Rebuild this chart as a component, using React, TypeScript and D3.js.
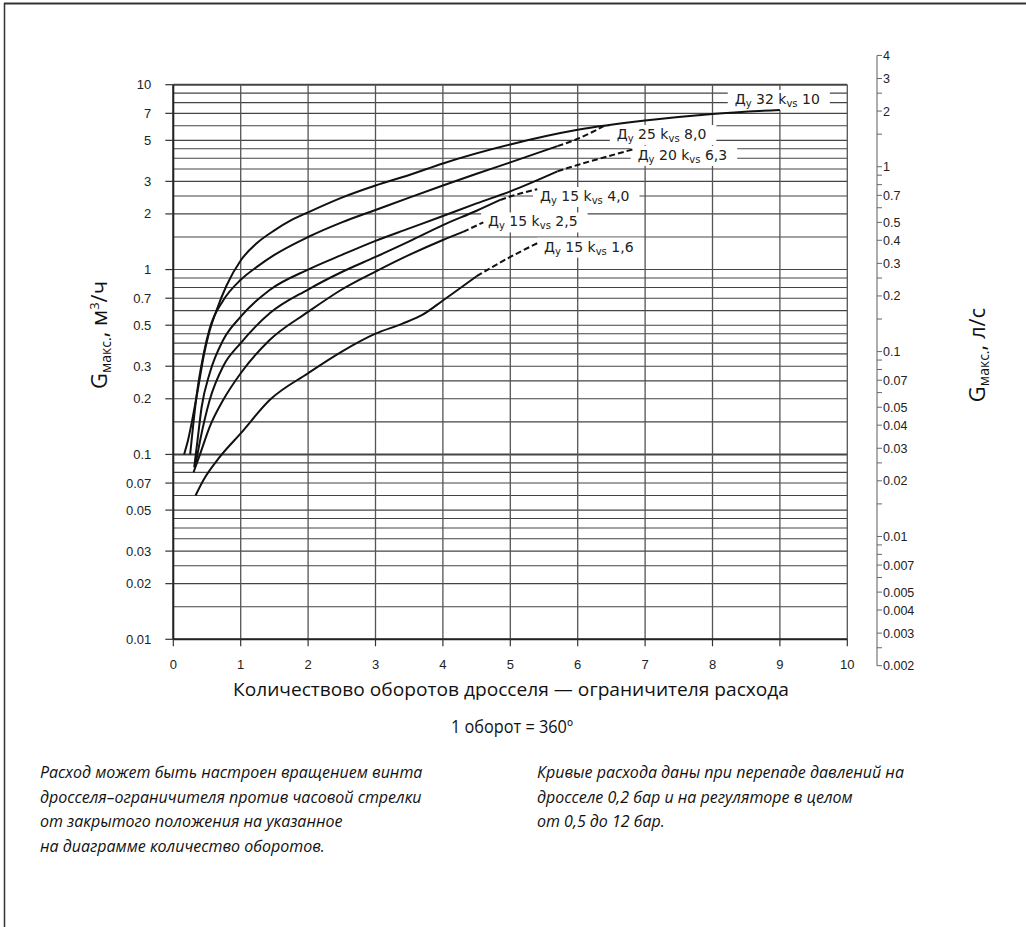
import React, { useEffect, useRef } from 'react';
import * as d3 from 'd3';

// x: turns of the throttle, y: max flow m3/h (log), right axis in l/s
const xTicks = [0, 1, 2, 3, 4, 5, 6, 7, 8, 9, 10];
const yTicks = [10, 7, 5, 3, 2, 1, 0.7, 0.5, 0.3, 0.2, 0.1, 0.07, 0.05, 0.03, 0.02, 0.01];
const gridSteps = [1, 1.5, 2, 2.5, 3, 3.5, 4, 4.5, 5, 6, 7, 8, 9];
const decades = [0.01, 0.1, 1];
const rightTicks = [4, 3, 2, 1, 0.7, 0.5, 0.4, 0.3, 0.2, 0.1, 0.07, 0.05, 0.04, 0.03, 0.02, 0.01, 0.007, 0.005, 0.004, 0.003, 0.002];
const rightMinorSteps = [1, 1.5, 2, 2.5, 3, 4, 5, 6, 7, 8, 9];
const rightDecades = [0.001, 0.01, 0.1, 1];
const M3H_PER_LS = 3.6;

// curves, [turns, m3/h]
const dn32kvs10 = [[0.16, 0.1], [0.22, 0.12], [0.3, 0.167], [0.37, 0.23], [0.45, 0.34], [0.52, 0.44], [0.64, 0.6], [0.79, 0.82], [1, 1.12], [1.25, 1.4], [1.5, 1.63], [1.75, 1.85], [2, 2.04], [2.5, 2.45], [3, 2.85], [3.5, 3.25], [4, 3.75], [5, 4.75], [6, 5.7], [7, 6.4], [8, 6.95], [9, 7.3]];
const dn25kvs8 = [[0.25, 0.1], [0.3, 0.15], [0.35, 0.214], [0.45, 0.35], [0.54, 0.48], [0.74, 0.68], [1, 0.88], [1.25, 1.04], [1.5, 1.2], [2, 1.5], [2.5, 1.8], [3, 2.1], [3.5, 2.45], [4, 2.85], [4.5, 3.3], [5, 3.8], [5.7, 4.65]];
const dn25kvs8Dash = [[5.7, 4.65], [6, 5.1], [6.4, 6.0]];
const dn20kvs63 = [[0.31, 0.085], [0.36, 0.12], [0.42, 0.18], [0.54, 0.275], [0.74, 0.416], [1, 0.556], [1.43, 0.776], [2, 1.0], [2.5, 1.2], [3, 1.43], [3.5, 1.67], [4, 1.95], [4.5, 2.28], [5, 2.65], [5.7, 3.4]];
const dn20kvs63Dash = [[5.7, 3.4], [6, 3.68], [6.4, 4.05], [6.85, 4.5]];
const dn15kvs40 = [[0.33, 0.088], [0.4, 0.12], [0.54, 0.197], [0.74, 0.3], [1, 0.4], [1.43, 0.58], [2, 0.78], [2.5, 0.97], [3, 1.17], [3.5, 1.42], [4, 1.74], [4.5, 2.08], [4.85, 2.38]];
const dn15kvs40Dash = [[4.85, 2.38], [5.1, 2.55], [5.4, 2.72]];
const dn15kvs25 = [[0.3, 0.08], [0.4, 0.101], [0.54, 0.141], [0.74, 0.197], [1, 0.275], [1.43, 0.416], [2, 0.59], [2.5, 0.78], [3, 0.975], [3.5, 1.2], [4, 1.445], [4.3, 1.6]];
const dn15kvs25Dash = [[4.3, 1.6], [4.6, 1.8]];
const dn15kvs16 = [[0.33, 0.06], [0.45, 0.073], [0.69, 0.097], [1, 0.13], [1.43, 0.197], [2, 0.275], [2.5, 0.36], [3, 0.45], [3.4, 0.51], [3.7, 0.57], [4, 0.68], [4.5, 0.92]];
const dn15kvs16Dash = [[4.5, 0.92], [5, 1.17], [5.42, 1.4]];

const solidCurves = [dn32kvs10, dn25kvs8, dn20kvs63, dn15kvs40, dn15kvs25, dn15kvs16];
const dashedCurves = [dn25kvs8Dash, dn20kvs63Dash, dn15kvs40Dash, dn15kvs25Dash, dn15kvs16Dash];

// curve captions: nominal diameter, kvs, anchor in data units
const labelDn = ['32', '25', '20', '15', '15', '15'];
const labelKvs = ['10', '8,0', '6,3', '4,0', '2,5', '1,6'];
const labelAt = [[8.33, 8.37], [6.58, 5.41], [6.89, 4.17], [5.44, 2.5], [4.67, 1.82], [5.5, 1.33]];

const xTitle = 'Количествово оборотов дросселя — ограничителя расхода';
const xSubTitle = '1 оборот = 360º';
const noteLeft = [
  'Расход может быть настроен вращением винта',
  'дросселя–ограничителя против часовой стрелки',
  'от закрытого  положения на указанное',
  'на диаграмме количество оборотов.',
];
const noteRight = [
  'Кривые расхода даны при перепаде давлений на',
  'дросселе 0,2 бар и на регуляторе в целом',
  'от 0,5 до 12 бар.',
];

const W = 1026;
const H = 927;

const App = () => {
  const svgRef = useRef<SVGSVGElement>(null);

  useEffect(() => {
    const svg = d3.select(svgRef.current);
    svg.selectAll('*').remove();

    const left = 173.3, right = 847.3, top = 84.7, bottom = 639.3;
    const x = d3.scaleLinear().domain([0, 10]).range([left, right]);
    const y = d3.scaleLog().domain([0.01, 10]).range([bottom, top]);
    const yR = d3.scaleLog().domain([0.01 / M3H_PER_LS, 10 / M3H_PER_LS]).range([bottom, top]);

    // page frame
    svg.append('line').attr('x1', 4).attr('x2', W).attr('y1', 3.5).attr('y2', 3.5)
      .attr('stroke', '#333').attr('stroke-width', 2);
    svg.append('line').attr('x1', 4.5).attr('x2', 4.5).attr('y1', 3).attr('y2', H)
      .attr('stroke', '#333').attr('stroke-width', 1.5);

    const gridG = svg.append('g');
    const bgG = svg.append('g');
    const curveG = svg.append('g');
    const axisG = svg.append('g');
    const labelG = svg.append('g');

    // grid
    const gridVals = decades.flatMap(d => gridSteps.map(s => +(d * s).toPrecision(3))).concat([10]);
    gridG.selectAll('line.h').data(gridVals).join('line')
      .attr('x1', left).attr('x2', right)
      .attr('y1', d => y(d)).attr('y2', d => y(d))
      .attr('stroke', '#444')
      .attr('stroke-width', d => (d === 0.1 || d === 10 ? 2 : 1.1));
    gridG.selectAll('line.v').data(xTicks).join('line')
      .attr('x1', d => x(d)).attr('x2', d => x(d))
      .attr('y1', top).attr('y2', bottom)
      .attr('stroke', '#555').attr('stroke-width', 1.3);

    // curves
    const line = d3.line<number[]>()
      .x(d => x(d[0]))
      .y(d => y(d[1]))
      .curve(d3.curveMonotoneX);
    curveG.selectAll('path.solid').data(solidCurves).join('path')
      .attr('d', d => line(d))
      .attr('fill', 'none').attr('stroke', '#111').attr('stroke-width', 2);
    curveG.selectAll('path.dash').data(dashedCurves).join('path')
      .attr('d', d => line(d))
      .attr('fill', 'none').attr('stroke', '#111').attr('stroke-width', 2)
      .attr('stroke-dasharray', '6,3');

    // left axis
    axisG.append('line').attr('x1', left).attr('x2', left).attr('y1', top).attr('y2', bottom)
      .attr('stroke', '#222').attr('stroke-width', 2);
    axisG.append('line').attr('x1', left).attr('x2', right).attr('y1', bottom).attr('y2', bottom)
      .attr('stroke', '#222').attr('stroke-width', 2);
    axisG.selectAll('line.yt').data(yTicks).join('line')
      .attr('x1', left - 8).attr('x2', left)
      .attr('y1', d => y(d)).attr('y2', d => y(d))
      .attr('stroke', '#333').attr('stroke-width', 1.2);
    axisG.selectAll('text.yl').data(yTicks).join('text')
      .attr('x', left - 22).attr('y', d => y(d) + 4.5)
      .attr('text-anchor', 'end')
      .attr('font-family', 'Liberation Sans, Arial, sans-serif').attr('font-size', 13)
      .attr('fill', '#222')
      .text(d => String(d));

    // bottom axis
    axisG.selectAll('line.xt').data(xTicks).join('line')
      .attr('x1', d => x(d)).attr('x2', d => x(d))
      .attr('y1', bottom).attr('y2', bottom + 7)
      .attr('stroke', '#333').attr('stroke-width', 1.2);
    axisG.selectAll('text.xl').data(xTicks).join('text')
      .attr('x', d => x(d)).attr('y', bottom + 30)
      .attr('text-anchor', 'middle')
      .attr('font-family', 'Liberation Sans, Arial, sans-serif').attr('font-size', 13)
      .attr('fill', '#222')
      .text(d => String(d));

    // right axis, l/s
    const rx = 877;
    const rMin = 0.002, rMax = 4;
    axisG.append('line').attr('x1', rx).attr('x2', rx).attr('y1', yR(rMax)).attr('y2', yR(rMin))
      .attr('stroke', '#999').attr('stroke-width', 1.6);
    const rMinor = rightDecades.flatMap(d => rightMinorSteps.map(s => +(d * s).toPrecision(3)))
      .filter(v => v >= rMin && v <= rMax);
    axisG.selectAll('line.rm').data(rMinor).join('line')
      .attr('x1', rx).attr('x2', rx + 5)
      .attr('y1', d => yR(d)).attr('y2', d => yR(d))
      .attr('stroke', '#666').attr('stroke-width', 1);
    axisG.selectAll('text.rl').data(rightTicks).join('text')
      .attr('x', rx + 6).attr('y', d => yR(d) + 4.5)
      .attr('font-family', 'Liberation Sans, Arial, sans-serif').attr('font-size', 12.5)
      .attr('fill', '#222')
      .text(d => String(d));

    // curve captions with white backing
    labelAt.forEach((p, i) => {
      const t = labelG.append('text')
        .attr('x', x(p[0])).attr('y', y(p[1]) + 5)
        .attr('font-family', 'DejaVu Sans, sans-serif').attr('font-size', 14)
        .attr('fill', '#222');
      t.append('tspan').text('Д');
      t.append('tspan').attr('font-size', 10).attr('dy', 3).text('у');
      t.append('tspan').attr('dy', -3).text(` ${labelDn[i]} k`);
      t.append('tspan').attr('font-size', 10).attr('dy', 3).text('vs');
      t.append('tspan').attr('dy', -3).text(` ${labelKvs[i]}`);
      const b = (t.node() as SVGTextElement).getBBox();
      bgG.append('rect')
        .attr('x', b.x - 7).attr('y', b.y - 1)
        .attr('width', b.width + 17).attr('height', b.height + 2)
        .attr('fill', '#fff');
    });

    // axis titles
    const yTitle = (cx: number, cy: number, unit: (t: any) => void) => {
      const t = labelG.append('text')
        .attr('transform', `translate(${cx},${cy}) rotate(-90)`)
        .attr('text-anchor', 'middle')
        .attr('font-family', 'Open Sans, sans-serif').attr('font-size', 22)
        .attr('fill', '#111');
      t.append('tspan').text('G');
      t.append('tspan').attr('font-size', 14).attr('dy', 4).text('макс.');
      unit(t);
    };
    yTitle(107, 335, t => {
      t.append('tspan').attr('dy', -4).text(', м');
      t.append('tspan').attr('font-size', 13).attr('dy', -8).text('3');
      t.append('tspan').attr('dy', 8).text('/ч');
    });
    yTitle(985, 355, t => {
      t.append('tspan').attr('dy', -4).text(', л/с');
    });

    labelG.append('text')
      .attr('x', 511).attr('y', 696)
      .attr('text-anchor', 'middle')
      .attr('font-family', 'Open Sans, sans-serif').attr('font-size', 19)
      .attr('textLength', 556).attr('lengthAdjust', 'spacingAndGlyphs')
      .attr('fill', '#111')
      .text(xTitle);
    labelG.append('text')
      .attr('x', 512).attr('y', 733)
      .attr('text-anchor', 'middle')
      .attr('font-family', 'Open Sans, sans-serif').attr('font-size', 19)
      .attr('textLength', 122).attr('lengthAdjust', 'spacingAndGlyphs')
      .attr('fill', '#111')
      .text(xSubTitle);

    const note = (lines: string[], x0: number) => {
      labelG.selectAll(null).data(lines).join('text')
        .attr('x', x0).attr('y', (_, i) => 778 + i * 24.5)
        .attr('font-family', 'Open Sans, sans-serif').attr('font-style', 'italic')
        .attr('font-size', 16)
        .attr('fill', '#111')
        .text(d => d);
    };
    note(noteLeft, 40);
    note(noteRight, 537);
  }, []);

  return (
    <svg ref={svgRef} width={W} height={H} style={{ position: 'absolute', left: 0, top: 0, background: '#fff' }} />
  );
};

export default App;
